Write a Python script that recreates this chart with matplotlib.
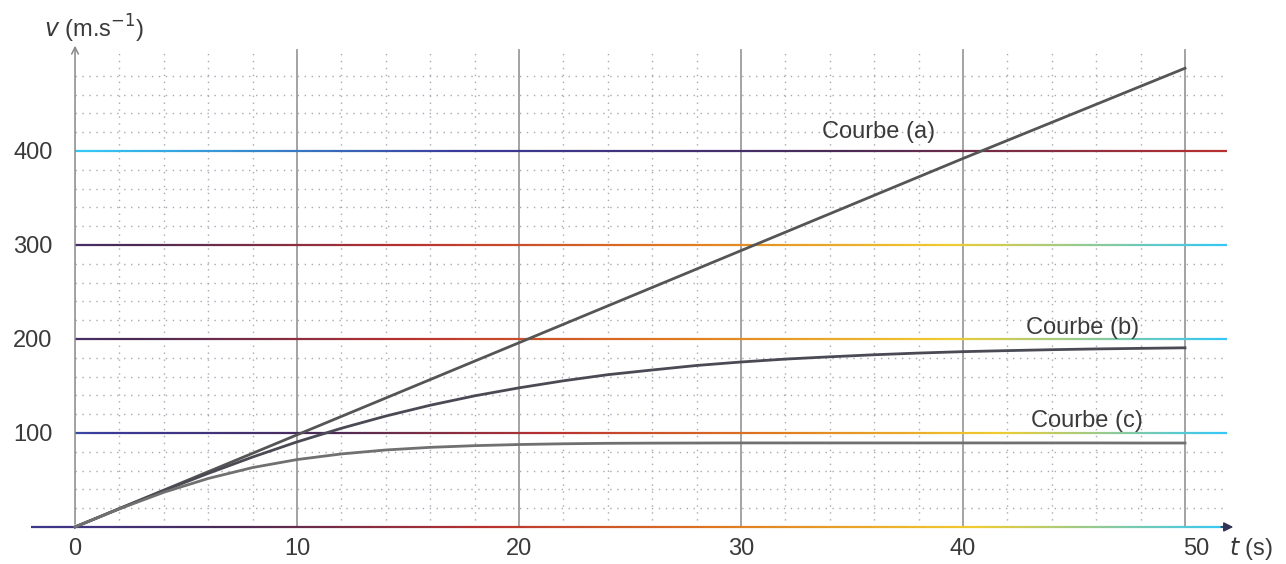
import numpy as np
import matplotlib
matplotlib.use("Agg")
import matplotlib.pyplot as plt
from matplotlib.collections import LineCollection
from matplotlib.colors import LinearSegmentedColormap

plt.rcParams['font.family'] = ['Liberation Sans', 'DejaVu Sans']

# values
t_a = [0, 10, 20, 30, 40, 50]
v_a = [0, 98, 196, 294, 392, 488]

t_bc = [0, 2, 4, 6, 8, 10, 12, 14, 16, 18, 20, 22, 24, 26, 28, 30,
        32, 34, 36, 38, 40, 42, 44, 46, 48, 50]
v_b = [0, 19.5, 38.7, 57, 74.4, 90.5, 105, 118, 129.5, 139.5, 148, 155.5,
       162, 167, 171.8, 175.5, 178.6, 181, 183.2, 185, 186.5, 187.6, 188.6,
       189.4, 190, 190.6]
v_c = [0, 19.3, 36.9, 51.6, 63.2, 71.7, 77.7, 81.9, 84.7, 86.5, 87.7, 88.5,
       89, 89.2, 89.3, 89.4, 89.4, 89.4, 89.4, 89.4, 89.4, 89.4, 89.4,
       89.4, 89.3, 89.3]

x_ticks = [0, 10, 20, 30, 40, 50]
y_ticks = [100, 200, 300, 400]
curve_labels = ["Courbe (a)", "Courbe (b)", "Courbe (c)"]

fig = plt.figure(figsize=(12.86, 5.64), dpi=100)
ax = fig.add_axes([0, 0, 1, 1])
ax.set_xlim(-3.38, 54.55)
ax.set_ylim(-39.4, 560.6)
ax.axis("off")

# minor dotted grid
for x in np.arange(2, 52, 2):
    if x % 10:
        ax.plot([x, x], [0, 505], color="#a8a8b4", lw=1.0, ls=(0, (1, 4)), zorder=1)
for y in np.arange(20, 500, 20):
    if y % 100:
        ax.plot([0, 51.9], [y, y], color="#a8a8b4", lw=1.0, ls=(0, (1, 4)), zorder=1)

# major vertical grid
for x in x_ticks[1:]:
    ax.plot([x, x], [0, 507], color="#9c9c9c", lw=1.3, zorder=2)

# major horizontal lines with scanner-like colour drift
cmap = LinearSegmentedColormap.from_list(
    "scan", ["#35c8f5", "#3a3a9a", "#4a2a55", "#b83030", "#e07a20", "#f0cc30", "#35c8f5"])
phase = {0: (0.2, 1.0), 100: (0.15, 1.0), 200: (0.3, 1.0), 300: (0.3, 1.0), 400: (0.0, 0.5)}
for y in [0] + y_ticks:
    x0 = -2 if y == 0 else 0
    xs = np.linspace(x0, 51.9, 200)
    pts = np.column_stack([xs, np.full_like(xs, y)]).reshape(-1, 1, 2)
    segs = np.concatenate([pts[:-1], pts[1:]], axis=1)
    p0, p1 = phase[y]
    lc = LineCollection(segs, colors=cmap(np.linspace(p0, p1, len(segs))), lw=1.6, zorder=3)
    ax.add_collection(lc)

# axes arrows
ax.annotate("", xy=(0, 515), xytext=(0, 0),
            arrowprops=dict(arrowstyle="->", color="#888888", lw=1.1, mutation_scale=12), zorder=4)
ax.annotate("", xy=(52.3, 0), xytext=(51.5, 0),
            arrowprops=dict(arrowstyle="-|>", color="#333355", lw=1.1, mutation_scale=14), zorder=4)

# curves
ax.plot(t_a, v_a, color="#555555", lw=2.0, zorder=5)
ax.plot(t_bc, v_b, color="#4a4a55", lw=2.0, zorder=5)
ax.plot(t_bc, v_c, color="#707070", lw=2.0, zorder=5)

# tick labels
for x in x_ticks:
    ax.text(x + (0.5 if x == 50 else 0), -23, str(x), ha="center", va="center",
            fontsize=17, color="#3a3a3a")
for y in y_ticks:
    ax.text(-1.9, y - 2, str(y), ha="center", va="center", fontsize=17, color="#3a3a3a")

ax.text(-1.4, 530, r"$v$ (m.s$^{-1}$)", ha="left", va="center", fontsize=17, color="#3a3a3a",
        math_fontfamily="dejavusans")
ax.text(52.0, -23, r"$t$ (s)", ha="left", va="center", fontsize=17, color="#3a3a3a")

ax.text(36.2, 420, curve_labels[0], ha="center", va="center", fontsize=17, color="#3a3a3a")
ax.text(45.4, 212, curve_labels[1], ha="center", va="center", fontsize=17, color="#3a3a3a")
ax.text(45.6, 113, curve_labels[2], ha="center", va="center", fontsize=17, color="#3a3a3a")

fig.savefig("out.png", dpi=100)
